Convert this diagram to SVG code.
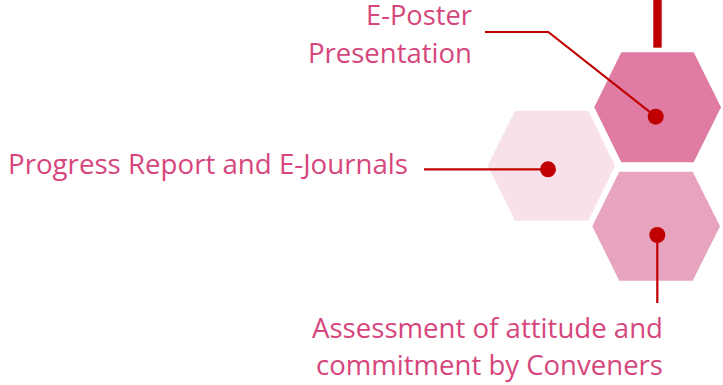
<svg xmlns="http://www.w3.org/2000/svg" width="723" height="385" viewBox="0 0 723 385">
<style>
.lbl{font-family:"Open Sans","Liberation Sans",sans-serif;font-size:27px;fill:#D6467D}
.con{stroke:#C00000;stroke-width:2.2;fill:none}
.dot{fill:#C00000}
</style>
<rect width="723" height="385" fill="#fff"/>
<g id="hex-poster">
<polygon points="621.3,52.3 693.7,52.3 721,107.3 693.7,162.3 621.3,162.3 594.3,107.3" fill="#E07BA3"/>
</g>
<g id="hex-progress">
<polygon points="515,110.7 588.3,110.7 615,165.7 588.3,220.7 515,220.7 487.7,165.7" fill="#F8E1EB"/>
</g>
<g id="hex-assessment">
<polygon points="619.3,171.7 692.7,171.7 720,226.2 692.7,280.7 619.3,280.7 592.3,226.2" fill="#E8A3BE"/>
</g>
<g id="connectors">
<rect x="653.3" y="0" width="8.4" height="47.7" fill="#C00000"/>
<polyline class="con" points="485,32 548.3,32 655.7,116.7"/>
<line class="con" x1="424" y1="169.3" x2="548" y2="169.3"/>
<line class="con" x1="657.3" y1="235" x2="657.3" y2="303"/>
<circle class="dot" cx="655.7" cy="116.7" r="8"/>
<circle class="dot" cx="548" cy="169.3" r="8"/>
<circle class="dot" cx="657.3" cy="235" r="8"/>
</g>
<g id="label-poster">
<text class="lbl" x="366" y="25" textLength="106" lengthAdjust="spacingAndGlyphs">E-Poster</text>
<text class="lbl" x="308" y="63" textLength="164" lengthAdjust="spacingAndGlyphs">Presentation</text>
</g>
<g id="label-progress">
<text class="lbl" x="8" y="174" textLength="400" lengthAdjust="spacingAndGlyphs">Progress Report and E-Journals</text>
</g>
<g id="label-assessment">
<text class="lbl" x="312" y="338" textLength="351" lengthAdjust="spacingAndGlyphs">Assessment of attitude and</text>
<text class="lbl" x="316" y="375" textLength="347" lengthAdjust="spacingAndGlyphs">commitment by Conveners</text>
</g>
</svg>
